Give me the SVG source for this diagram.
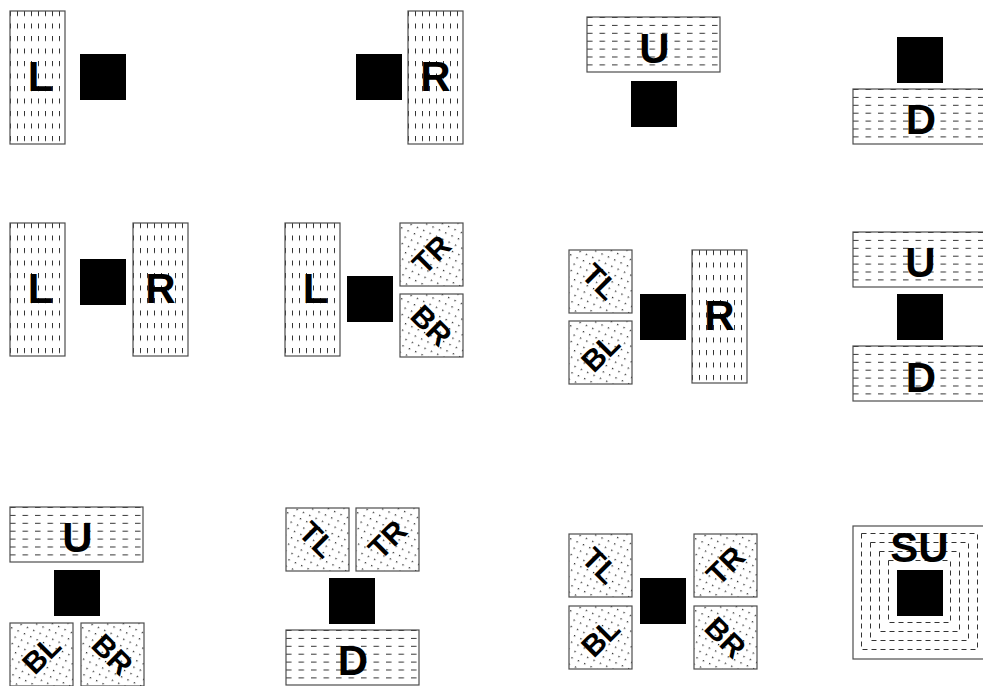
<svg xmlns="http://www.w3.org/2000/svg" width="983" height="686" viewBox="0 0 983 686">
<defs>
<style>
.box{stroke:#4d4d4d;stroke-width:1.2}
.sq{fill:#000}
.big{font-family:"Liberation Sans",Arial,sans-serif;font-weight:bold;font-size:42px;fill:#000;text-anchor:middle}
.sm{font-family:"Liberation Sans",Arial,sans-serif;font-weight:bold;font-size:30px;fill:#000;text-anchor:middle}
.dr{fill:none;stroke:#333;stroke-width:1;stroke-dasharray:5 4}
</style>
<pattern id="vd" patternUnits="userSpaceOnUse" width="7" height="12.5">
<rect width="7" height="12.5" fill="#fff"/>
<line x1="0.5" y1="0" x2="0.5" y2="5" stroke="#333" stroke-width="1"/>
</pattern>
<pattern id="hd" patternUnits="userSpaceOnUse" width="12.5" height="7.9">
<rect width="12.5" height="7.9" fill="#fff"/>
<line x1="0" y1="0.5" x2="5.5" y2="0.5" stroke="#333" stroke-width="1"/>
</pattern>
<pattern id="dt" patternUnits="userSpaceOnUse" width="7" height="7" patternTransform="rotate(25)">
<rect width="7" height="7" fill="#fff"/>
<rect x="3" y="3" width="1.3" height="1.3" fill="#222"/>
</pattern>
</defs>
<rect width="983" height="686" fill="#fff"/>

<g id="p1">
<g id="p1-L" transform="translate(10,11)"><rect class="box" width="55" height="133" fill="url(#vd)"/><text class="big" x="30.5" y="80">L</text></g>
<rect id="p1-c" class="sq" x="80" y="54" width="46" height="46"/>
</g>

<g id="p2">
<rect id="p2-c" class="sq" x="356" y="54" width="46" height="46"/>
<g id="p2-R" transform="translate(408,11)"><rect class="box" width="55" height="133" fill="url(#vd)"/><text class="big" x="27.5" y="80">R</text></g>
</g>

<g id="p3">
<g id="p3-U" transform="translate(587,17)"><rect class="box" width="133" height="55" fill="url(#hd)"/><text class="big" x="67.5" y="46">U</text></g>
<rect id="p3-c" class="sq" x="631" y="81" width="46" height="46"/>
</g>

<g id="p4">
<rect id="p4-c" class="sq" x="897" y="37" width="46" height="46"/>
<g id="p4-D" transform="translate(853,89)"><rect class="box" width="133" height="55" fill="url(#hd)"/><text class="big" x="68" y="44.5">D</text></g>
</g>

<g id="p5">
<g id="p5-L" transform="translate(10,223)"><rect class="box" width="55" height="133" fill="url(#vd)"/><text class="big" x="30.5" y="80">L</text></g>
<rect id="p5-c" class="sq" x="80" y="259" width="46" height="46"/>
<g id="p5-R" transform="translate(133,223)"><rect class="box" width="55" height="133" fill="url(#vd)"/><text class="big" x="27.5" y="80">R</text></g>
</g>

<g id="p6">
<g id="p6-L" transform="translate(285,223)"><rect class="box" width="55" height="133" fill="url(#vd)"/><text class="big" x="30.5" y="80">L</text></g>
<rect id="p6-c" class="sq" x="347" y="276" width="46" height="46"/>
<g id="p6-TR" transform="translate(400,223)"><rect class="box" width="63" height="63" fill="url(#dt)"/><text class="sm" transform="translate(31.5,31.5) rotate(-45)" y="10.5">TR</text></g>
<g id="p6-BR" transform="translate(400,294)"><rect class="box" width="63" height="63" fill="url(#dt)"/><text class="sm" transform="translate(31.5,31.5) rotate(45)" y="10.5">BR</text></g>
</g>

<g id="p7">
<g id="p7-TL" transform="translate(569,250)"><rect class="box" width="63" height="63" fill="url(#dt)"/><text class="sm" transform="translate(31.5,31.5) rotate(45)" y="10.5">TL</text></g>
<g id="p7-BL" transform="translate(569,321)"><rect class="box" width="63" height="63" fill="url(#dt)"/><text class="sm" transform="translate(31.5,31.5) rotate(-45)" y="10.5">BL</text></g>
<rect id="p7-c" class="sq" x="640" y="294" width="46" height="46"/>
<g id="p7-R" transform="translate(692,250)"><rect class="box" width="55" height="133" fill="url(#vd)"/><text class="big" x="27.5" y="80">R</text></g>
</g>

<g id="p8">
<g id="p8-U" transform="translate(853,232)"><rect class="box" width="133" height="55" fill="url(#hd)"/><text class="big" x="67.5" y="45">U</text></g>
<rect id="p8-c" class="sq" x="897" y="294" width="46" height="46"/>
<g id="p8-D" transform="translate(853,346)"><rect class="box" width="133" height="55" fill="url(#hd)"/><text class="big" x="68" y="46">D</text></g>
</g>

<g id="p9">
<g id="p9-U" transform="translate(10,507)"><rect class="box" width="133" height="55" fill="url(#hd)"/><text class="big" x="67.5" y="45">U</text></g>
<rect id="p9-c" class="sq" x="54" y="570" width="46" height="46"/>
<g id="p9-BL" transform="translate(10,623)"><rect class="box" width="63" height="63" fill="url(#dt)"/><text class="sm" transform="translate(31.5,31.5) rotate(-45)" y="10.5">BL</text></g>
<g id="p9-BR" transform="translate(81,623)"><rect class="box" width="63" height="63" fill="url(#dt)"/><text class="sm" transform="translate(31.5,31.5) rotate(45)" y="10.5">BR</text></g>
</g>

<g id="p10">
<g id="p10-TL" transform="translate(286,508)"><rect class="box" width="63" height="63" fill="url(#dt)"/><text class="sm" transform="translate(31.5,31.5) rotate(45)" y="10.5">TL</text></g>
<g id="p10-TR" transform="translate(356,508)"><rect class="box" width="63" height="63" fill="url(#dt)"/><text class="sm" transform="translate(31.5,31.5) rotate(-45)" y="10.5">TR</text></g>
<rect id="p10-c" class="sq" x="329" y="578" width="46" height="46"/>
<g id="p10-D" transform="translate(286,630)"><rect class="box" width="133" height="55" fill="url(#hd)"/><text class="big" x="67" y="45">D</text></g>
</g>

<g id="p11">
<g id="p11-TL" transform="translate(569,534)"><rect class="box" width="63" height="63" fill="url(#dt)"/><text class="sm" transform="translate(31.5,31.5) rotate(45)" y="10.5">TL</text></g>
<g id="p11-BL" transform="translate(569,606)"><rect class="box" width="63" height="63" fill="url(#dt)"/><text class="sm" transform="translate(31.5,31.5) rotate(-45)" y="10.5">BL</text></g>
<rect id="p11-c" class="sq" x="640" y="578" width="46" height="46"/>
<g id="p11-TR" transform="translate(694,534)"><rect class="box" width="63" height="63" fill="url(#dt)"/><text class="sm" transform="translate(31.5,31.5) rotate(-45)" y="10.5">TR</text></g>
<g id="p11-BR" transform="translate(694,606)"><rect class="box" width="63" height="63" fill="url(#dt)"/><text class="sm" transform="translate(31.5,31.5) rotate(45)" y="10.5">BR</text></g>
</g>

<g id="p12" transform="translate(853,526)">
<rect class="box" width="133" height="133" fill="#fff"/>
<rect class="dr" x="8.5" y="7.5" width="116" height="116"/>
<rect class="dr" x="17.5" y="16.5" width="98" height="98"/>
<rect class="dr" x="26.5" y="25.5" width="80" height="80"/>
<rect class="dr" x="35.5" y="34.5" width="62" height="62"/>
<rect id="p12-c" class="sq" x="44" y="44" width="46" height="46"/>
<text class="big" x="66.5" y="36">SU</text>
</g>

<g id="connectors"/>
</svg>
